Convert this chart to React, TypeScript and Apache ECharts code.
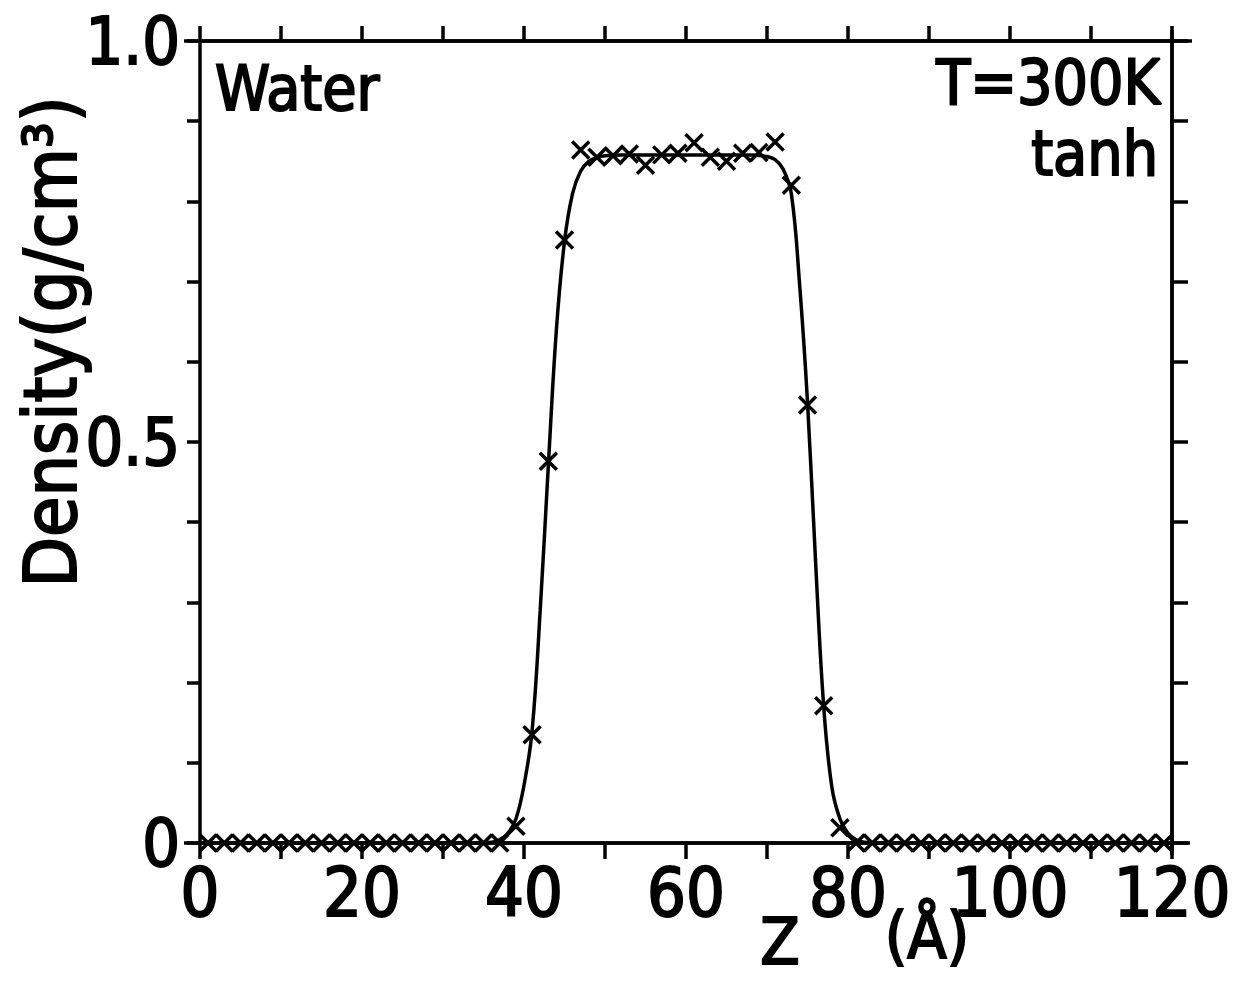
import React, { useEffect, useRef } from "react";
import * as echarts from "echarts";

// Marker positions (Å) and measured densities (g/cm3)
const zMarkers = [
  1, 3, 5, 7, 9, 11, 13, 15, 17, 19, 21, 23, 25, 27, 29, 31, 33, 35, 37,
  39, 41, 43, 45, 47, 49, 51, 53, 55, 57, 59, 61, 63, 65, 67, 69, 71, 73, 75, 77, 79,
  81, 83, 85, 87, 89, 91, 93, 95, 97, 99, 101, 103, 105, 107, 109, 111, 113, 115, 117, 119,
];
const densityMarkers = [
  0, 0, 0, 0, 0, 0, 0, 0, 0, 0, 0, 0, 0, 0, 0, 0, 0, 0, 0,
  0.021, 0.135, 0.476, 0.752, 0.864, 0.855, 0.857, 0.859, 0.845, 0.858, 0.86, 0.873, 0.855, 0.85, 0.86, 0.861, 0.874, 0.82, 0.546, 0.171, 0.019,
  0, 0, 0, 0, 0, 0, 0, 0, 0, 0, 0, 0, 0, 0, 0, 0, 0, 0, 0, 0,
];

// tanh fit curve
const zCurve = [
  0, 34, 36, 37, 38, 39, 40, 41, 42, 43, 44, 45, 46, 47, 48, 49, 50, 52,
  68, 70, 71, 72, 73, 74, 75, 76, 77, 78, 79, 80, 81, 82, 84, 120,
];
const densityCurve = [
  0, 0, 0.001, 0.004, 0.012, 0.03, 0.072, 0.14, 0.29, 0.47, 0.64, 0.75, 0.81, 0.838, 0.85, 0.855, 0.857, 0.858,
  0.858, 0.856, 0.852, 0.84, 0.81, 0.7, 0.55, 0.35, 0.17, 0.07, 0.03, 0.012, 0.004, 0.001, 0, 0,
];

const xLabelValues = [0, 20, 40, 60, 80, 100, 120];
const yLabels: Record<string, string> = { "0": "0", "0.5": "0.5", "1": "1.0" };

const FONT = "'DejaVu Sans Condensed', 'DejaVu Sans', sans-serif";

export default function App() {
  const ref = useRef<HTMLDivElement>(null);

  useEffect(() => {
    document.body.style.margin = "0";
    if (!ref.current) return;
    const chart = echarts.init(ref.current, null, { renderer: "svg" });

    const textBase = {
      fontFamily: FONT,
      fill: "#000",
      stroke: "#000",
      lineWidth: 2,
    };

    const axisLineStyle = { color: "#000", width: 3.5 };

    chart.setOption({
      animation: false,
      backgroundColor: "#fff",
      grid: { left: 200, right: 75, top: 41, bottom: 141, containLabel: false },
      xAxis: [
        {
          type: "value",
          position: "bottom",
          min: 0,
          max: 120,
          interval: 10,
          axisLine: { show: true, onZero: false, lineStyle: axisLineStyle },
          axisTick: { show: true, inside: false, length: 16, lineStyle: axisLineStyle },
          splitLine: { show: false },
          axisLabel: {
            margin: 15,
            fontSize: 68,
            fontFamily: FONT,
            color: "#000",
            textBorderColor: "#000",
            textBorderWidth: 2,
            formatter: (v: number) => (xLabelValues.indexOf(v) >= 0 ? String(v) : ""),
          },
        },
        {
          type: "value",
          position: "top",
          min: 0,
          max: 120,
          interval: 10,
          axisLine: { show: true, onZero: false, lineStyle: axisLineStyle },
          axisTick: { show: true, inside: false, length: 15, lineStyle: axisLineStyle },
          splitLine: { show: false },
          axisLabel: { show: false },
        },
      ],
      yAxis: [
        {
          type: "value",
          position: "left",
          min: 0,
          max: 1,
          interval: 0.1,
          axisLine: { show: true, onZero: false, lineStyle: axisLineStyle },
          axisTick: { show: true, inside: false, length: 13, lineStyle: axisLineStyle },
          splitLine: { show: false },
          axisLabel: {
            margin: 20,
            fontSize: 66,
            fontFamily: FONT,
            color: "#000",
            textBorderColor: "#000",
            textBorderWidth: 2,
            formatter: (v: number) => {
              const k = String(Math.round(v * 10) / 10);
              return yLabels[k] ?? "";
            },
          },
        },
        {
          type: "value",
          position: "right",
          min: 0,
          max: 1,
          interval: 0.1,
          axisLine: { show: true, onZero: false, lineStyle: axisLineStyle },
          axisTick: { show: true, inside: false, length: 16, lineStyle: axisLineStyle },
          splitLine: { show: false },
          axisLabel: { show: false },
        },
      ],
      series: [
        {
          type: "line",
          data: zCurve.map((z, i) => [z, densityCurve[i]]),
          showSymbol: false,
          smooth: 0.4,
          lineStyle: { color: "#000", width: 3.5 },
          z: 2,
        },
        {
          type: "scatter",
          data: zMarkers.map((z, i) => [z, densityMarkers[i]]),
          symbol: "path://M0 0L10 10M10 0L0 10",
          symbolSize: 17,
          itemStyle: { color: "none", borderColor: "#000", borderWidth: 3.5, opacity: 1 },
          z: 3,
        },
      ],
      graphic: [
        { type: "line", shape: { x1: 184, y1: 843, x2: 1190, y2: 843 }, style: { stroke: "#000", lineWidth: 3.5 } },
        { type: "line", shape: { x1: 184, y1: 41, x2: 1192, y2: 41 }, style: { stroke: "#000", lineWidth: 3.5 } },
        { type: "line", shape: { x1: 1172, y1: 30, x2: 1172, y2: 855 }, style: { stroke: "#000", lineWidth: 3.5 } },
        {
          type: "text",
          x: 215,
          y: 88,
          style: { ...textBase, text: "Water", fontSize: 62, textAlign: "left", textVerticalAlign: "middle" },
        },
        {
          type: "text",
          x: 1160,
          y: 82,
          style: { ...textBase, text: "T=300K", fontSize: 62, textAlign: "right", textVerticalAlign: "middle" },
        },
        {
          type: "text",
          x: 1158,
          y: 153,
          style: { ...textBase, text: "tanh", fontSize: 62, textAlign: "right", textVerticalAlign: "middle" },
        },
        {
          type: "text",
          x: 50,
          y: 342,
          rotation: Math.PI / 2,
          style: { ...textBase, text: "Density(g/cm³)", fontSize: 73, textAlign: "center", textVerticalAlign: "middle" },
        },
        {
          type: "text",
          x: 780,
          y: 942,
          style: { ...textBase, text: "Z", fontSize: 64, textAlign: "center", textVerticalAlign: "middle" },
        },
        {
          type: "text",
          x: 927,
          y: 936,
          style: { ...textBase, text: "(Å)", fontSize: 64, textAlign: "center", textVerticalAlign: "middle" },
        },
      ],
    });

    return () => chart.dispose();
  }, []);

  return (
    <div
      ref={ref}
      style={{ position: "fixed", left: 0, top: 0, width: 1247, height: 984 }}
    />
  );
}
